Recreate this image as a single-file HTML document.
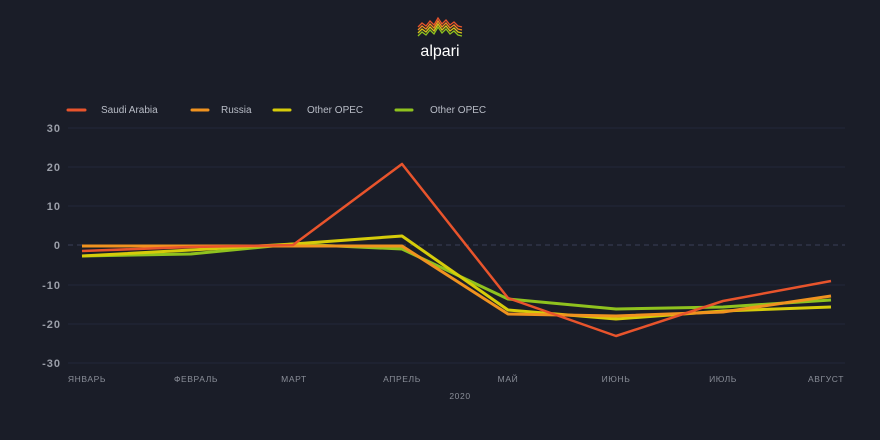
<!DOCTYPE html>
<html><head><meta charset="utf-8"><style>
html,body{margin:0;padding:0;background:#1a1d28;}
svg{display:block;font-family:"Liberation Sans",sans-serif;}
</style></head><body>
<svg width="880" height="440" viewBox="0 0 880 440">
<rect width="880" height="440" fill="#1a1d28"/>
<!-- logo -->
<g fill="none" stroke-width="1.3">
<polyline stroke="#e8542c" points="418,27 422,23 426,26 430,21 434,25 438,18 442,24 446,20 450,25 454,22 458,26 462,27"/>
<polyline stroke="#f08a22" points="418,30 422,26 426,29 430,24 434,28 438,21 442,27 446,23 450,28 454,25 458,29 462,30"/>
<polyline stroke="#d9c21a" points="418,33 422,29 426,32 430,27 434,31 438,24 442,30 446,26 450,31 454,28 458,32 462,33"/>
<polyline stroke="#8fc21e" points="418,36 422,32 426,35 430,30 434,34 438,27 442,33 446,29 450,34 454,31 458,35 462,36"/>
</g>
<text x="440" y="56" text-anchor="middle" fill="#ffffff" font-size="16">alpari</text>
<!-- legend -->
<g font-size="10" fill="#b8bcc6">
<line x1="68" y1="110" x2="85" y2="110" stroke="#e8542c" stroke-width="3" stroke-linecap="round"/>
<text x="101" y="113">Saudi Arabia</text>
<line x1="192" y1="110" x2="208" y2="110" stroke="#f0921f" stroke-width="3" stroke-linecap="round"/>
<text x="221" y="113">Russia</text>
<line x1="274" y1="110" x2="290" y2="110" stroke="#d6cc0a" stroke-width="3" stroke-linecap="round"/>
<text x="307" y="113">Other OPEC</text>
<line x1="396" y1="110" x2="412" y2="110" stroke="#8fc21e" stroke-width="3" stroke-linecap="round"/>
<text x="430" y="113">Other OPEC</text>
</g>
<!-- grid -->
<g stroke="#23283a" stroke-width="1">
<line x1="68" y1="128" x2="845" y2="128"/>
<line x1="68" y1="206" x2="845" y2="206"/>
<line x1="68" y1="285" x2="845" y2="285"/>
<line x1="68" y1="324" x2="845" y2="324"/>
<line x1="68" y1="363" x2="845" y2="363"/>
<line x1="68" y1="167" x2="845" y2="167"/>
</g>
<line x1="68" y1="245" x2="845" y2="245" stroke="#3a4058" stroke-dasharray="5,4"/>
<g font-size="11" font-weight="bold" fill="#9a9ea8" text-anchor="end" letter-spacing="1">
<text x="61" y="132">30</text><text x="61" y="171">20</text><text x="61" y="210">10</text>
<text x="61" y="249">0</text><text x="61" y="289">-10</text><text x="61" y="328">-20</text><text x="61" y="367">-30</text>
</g>
<g font-size="8.5" fill="#8a8e98" text-anchor="middle" letter-spacing="0.6">
<text x="87" y="382">ЯНВАРЬ</text><text x="196" y="382">ФЕВРАЛЬ</text><text x="294" y="382">МАРТ</text>
<text x="402" y="382">АПРЕЛЬ</text><text x="508" y="382">МАЙ</text><text x="616" y="382">ИЮНЬ</text>
<text x="723" y="382">ИЮЛЬ</text><text x="826" y="382">АВГУСТ</text>
<text x="460" y="399">2020</text>
</g>
<g fill="none" stroke-width="3" stroke-linejoin="round">
<polyline stroke="#8fc21e" points="82,256 191,254 293,244 402,249 508,299 616,309 723,307 831,300"/>
<polyline stroke="#d6cc0a" points="82,256 191,250 293,244 402,236 508,310 616,319 723,311 831,307"/>
<polyline stroke="#f0921f" points="82,246 191,246 293,246 402,246 508,314 616,316 723,312 831,296"/>
<polyline stroke="#e8542c" stroke-width="2.5" points="82,251 191,247 293,245 402,164 508,298 616,336 723,301 831,281"/>
</g>
</svg>
</body></html>
